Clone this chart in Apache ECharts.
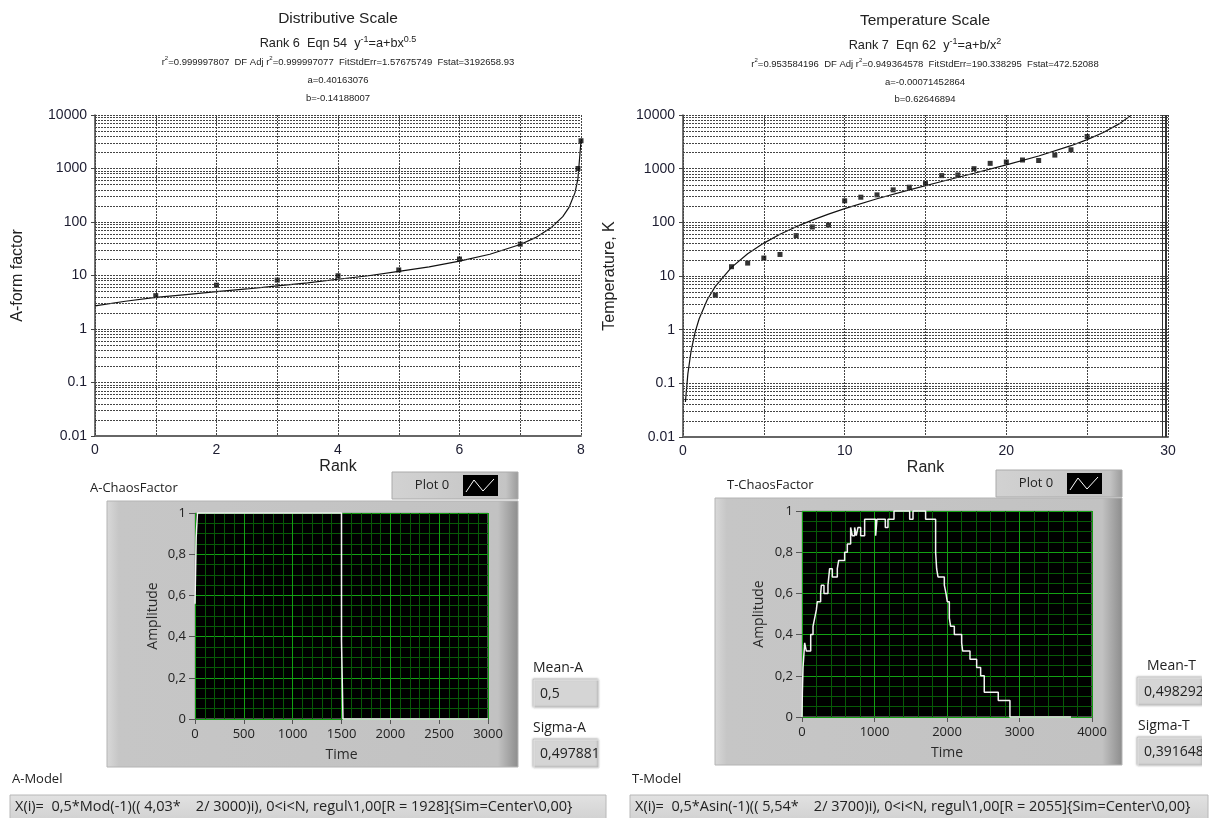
<!DOCTYPE html>
<html>
<head>
<meta charset="utf-8">
<script src="https://cdn.jsdelivr.net/npm/echarts@6/dist/echarts.min.js"></script>
<style>
  html, body { margin: 0; padding: 0; background: #fff; }
  #main { width: 1219px; height: 818px; }
</style>
</head>
<body>
<div id="main"></div>
<script>
// Distributive scale: rank vs A-form factor
var aRank = [1, 2, 3, 4, 5, 6, 7, 7.95, 8]
var aFactor = [4.2, 6.6, 8.2, 9.9, 12.7, 20.3, 38.5, 1000, 3300]
// fitted curve
var aFitRank = [0, 0.5, 1, 1.5, 2, 2.5, 3, 3.5, 4, 4.5, 5, 5.5, 6, 6.5, 7, 7.25, 7.5, 7.7, 7.8, 7.9, 7.95, 8]
var aFitValue = [2.7, 3.3, 3.9, 4.4, 5.0, 5.6, 6.4, 7.3, 8.5, 9.9, 11.9, 14.5, 18.5, 25, 38, 51, 77, 126, 185, 350, 650, 3300]

// Temperature scale: rank vs temperature
var tRank = [2, 3, 4, 5, 6, 7, 8, 9, 10, 11, 12, 13, 14, 15, 16, 17, 18, 19, 20, 21, 22, 23, 24, 25]
var tTemp = [4.4, 14.9, 17.4, 21.6, 25.2, 56.6, 82, 89, 252, 294, 325, 403, 451, 527, 742, 764, 1000, 1256, 1329, 1450, 1420, 1790, 2249, 3970]
var tFitRank = [0.15, 0.3, 0.5, 0.75, 1, 1.5, 2, 3, 4, 5, 6, 7, 8, 9, 10, 12, 14, 16, 18, 20, 22, 24, 25, 26, 27, 27.7]
var tFitTemp = [0.045, 0.15, 0.4, 0.9, 1.6, 3.6, 6.4, 14.5, 26, 41, 60, 83, 110, 142, 180, 275, 403, 577, 820, 1174, 1724, 2680, 3474, 4711, 6903, 9800]

// chaos factor waveforms (value holds from each time until the next one)
var aChaosTime = [0, 12, 25, 1500, 1515, 3000]
var aChaosAmp = [0.56, 0.88, 1, 0.38, 0, 0]
var tChaosTime = [0, 5, 14, 37, 60, 120, 152, 175, 198, 211, 257, 267, 303, 358, 381, 418, 487, 506, 588, 625,
  671, 694, 726, 749, 772, 809, 864, 1016, 1034, 1149, 1186, 1269, 1485, 1531, 1705, 1843, 1857, 1876, 1963, 1986,
  2004, 2032, 2050, 2101, 2202, 2216, 2317, 2409, 2464, 2514, 2707, 2868, 3710]
var tChaosAmp = [0, 0.12, 0.24, 0.36, 0.32, 0.40, 0.44, 0.48, 0.52, 0.56, 0.60, 0.64, 0.60, 0.64, 0.72, 0.68, 0.72, 0.76, 0.80, 0.84,
  0.92, 0.88, 0.92, 0.88, 0.92, 0.88, 0.96, 0.88, 0.96, 0.92, 0.96, 1.0, 0.96, 1.0, 0.96, 0.80, 0.72, 0.68, 0.64, 0.60,
  0.56, 0.48, 0.44, 0.40, 0.36, 0.32, 0.28, 0.24, 0.20, 0.12, 0.08, 0, 0]

// tick labels
var logTickLabels = ['0.01', '0.1', '1', '10', '100', '1000', '10000']
var ampTickLabels = ['0', '0,2', '0,4', '0,6', '0,8', '1']

function zip (xs, ys) {
  return xs.map(function (x, i) { return [x, ys[i]] })
}

// log grid: lines at 2..9 of each decade
var minorGrid = []
;[0.01, 0.1, 1, 10, 100, 1000].forEach(function (d) {
  for (var m = 2; m <= 9; m++) minorGrid.push({ yAxis: +(m * d).toPrecision(3) })
})
var edgeLines = [29.65, 29.8, 29.9].map(function (v) { return { xAxis: v } })

var arial = 'Liberation Sans, Arial, sans-serif'
var lvFont = 'Open Sans, Noto Sans, sans-serif'
var dotted = { color: '#444', width: 1, type: [2, 1] }

function logYAxis (gridIndex, name, gap) {
  return {
    gridIndex: gridIndex,
    type: 'log',
    logBase: 10,
    min: 0.01,
    max: 10000,
    name: name,
    nameLocation: 'middle',
    nameGap: gap,
    nameTextStyle: { fontSize: 16, fontFamily: arial, color: '#222' },
    axisLine: { show: true, lineStyle: { color: '#444', width: 1.5 } },
    axisTick: { show: true, length: 4, lineStyle: { color: '#444' } },
    axisLabel: {
      margin: 8, fontSize: 14, fontFamily: arial, color: '#1c1c30',
      formatter: function (v) { return logTickLabels[Math.round(Math.log10(v)) + 2] }
    },
    splitLine: { show: true, lineStyle: dotted }
  }
}

function rankXAxis (gridIndex, max, step, labelStep) {
  return {
    gridIndex: gridIndex,
    type: 'value',
    min: 0,
    max: max,
    interval: step,
    name: 'Rank',
    nameLocation: 'middle',
    nameGap: 23,
    nameTextStyle: { fontSize: 16, fontFamily: arial, color: '#222' },
    axisLine: { show: true, lineStyle: { color: '#666', width: 2 } },
    axisTick: { show: false },
    axisLabel: {
      margin: 7, fontSize: 14, fontFamily: arial, color: '#1c1c30',
      formatter: function (v) { return v % labelStep === 0 ? String(v) : '' }
    },
    splitLine: { show: true, lineStyle: dotted }
  }
}

function timeXAxis (gridIndex, max, step) {
  return {
    gridIndex: gridIndex,
    type: 'value',
    min: 0,
    max: max,
    interval: step,
    name: 'Time',
    nameLocation: 'middle',
    nameGap: 29,
    nameTextStyle: { fontSize: 14, fontFamily: lvFont, color: '#2a2a2a' },
    axisLine: { show: false },
    axisTick: { show: true, length: 5, lineStyle: { color: '#555' } },
    minorTick: { show: false, splitNumber: 5 },
    minorSplitLine: { show: true, lineStyle: { color: '#075a07', width: 1 } },
    splitLine: { show: true, lineStyle: { color: '#13a013', width: 1 } },
    axisLabel: {
      margin: 9, fontSize: 13, fontFamily: lvFont, color: '#222',
      formatter: function (v) { return String(v) }
    }
  }
}

function ampYAxis (gridIndex, gap) {
  return {
    gridIndex: gridIndex,
    type: 'value',
    min: 0,
    max: 1,
    interval: 0.2,
    name: 'Amplitude',
    nameLocation: 'middle',
    nameGap: gap,
    nameTextStyle: { fontSize: 14, fontFamily: lvFont, color: '#2a2a2a' },
    axisLine: { show: false },
    axisTick: { show: true, length: 6, lineStyle: { color: '#555' } },
    minorTick: { show: false, splitNumber: 4 },
    minorSplitLine: { show: true, lineStyle: { color: '#075a07', width: 1 } },
    splitLine: { show: true, lineStyle: { color: '#13a013', width: 1 } },
    axisLabel: {
      margin: 9, fontSize: 13, fontFamily: lvFont, color: '#222',
      formatter: function (v) { return ampTickLabels[Math.round(v * 5)] }
    }
  }
}

function txt (x, y, text, size, opts) {
  opts = opts || {}
  return {
    type: 'text',
    x: x,
    y: y,
    z: opts.z || 10,
    style: {
      text: text,
      fontSize: size,
      fontFamily: opts.font || arial,
      fill: opts.fill || '#222',
      align: opts.align || 'left',
      verticalAlign: 'middle',
      rich: opts.rich
    }
  }
}

function supRich (size) {
  return {
    n: { fontSize: size, fontFamily: arial, fill: '#222', lineHeight: size + 4, verticalAlign: 'middle' },
    s: { fontSize: Math.round(size * 0.68), fontFamily: arial, fill: '#222', lineHeight: size + 4, verticalAlign: 'top' }
  }
}

function panelBg (x, y, w, h) {
  return {
    type: 'rect', z: -10,
    shape: { x: x, y: y, width: w, height: h },
    style: {
      fill: new echarts.graphic.LinearGradient(0, 0, 1, 0, [
        { offset: 0, color: '#d9d9d9' }, { offset: 0.03, color: '#c6c6c6' },
        { offset: 0.95, color: '#c2c2c2' }, { offset: 1, color: '#8c8c8c' }
      ]),
      stroke: '#b4b4b4', lineWidth: 1
    }
  }
}

function legendBox (x, y) {
  return [
    {
      type: 'rect', z: -10,
      shape: { x: x, y: y, width: 126, height: 27 },
      style: {
        fill: new echarts.graphic.LinearGradient(0, 0, 1, 0, [
          { offset: 0, color: '#d2d2d2' }, { offset: 0.9, color: '#c4c4c4' }, { offset: 1, color: '#9a9a9a' }
        ]),
        stroke: '#aaa', lineWidth: 1
      }
    },
    txt(x + 40, y + 13, 'Plot 0', 13, { font: lvFont, align: 'center' }),
    { type: 'rect', z: 5, shape: { x: x + 71, y: y + 3, width: 35, height: 21 }, style: { fill: '#000' } },
    {
      type: 'polyline', z: 6,
      shape: { points: [[x + 74, y + 20], [x + 82, y + 8], [x + 91, y + 19], [x + 102, y + 7]] },
      style: { stroke: '#fff', lineWidth: 1, fill: null }
    }
  ]
}

function valueBox (x, y, label, value, labelX) {
  return [
    txt(labelX, y - 12, label, 14, { font: lvFont }),
    {
      type: 'rect', z: -5,
      shape: { x: x, y: y, width: 65, height: 28 },
      style: { fill: '#d5d5d5', stroke: '#e6e6e6', lineWidth: 1, shadowColor: 'rgba(0,0,0,0.25)', shadowBlur: 2, shadowOffsetX: -1, shadowOffsetY: -1 }
    },
    txt(x + 6, y + 14, value, 14, { font: lvFont })
  ]
}

function modelBox (x, y, w, label, text) {
  return [
    txt(x + 2, y - 16, label, 13, { font: lvFont }),
    {
      type: 'rect', z: -5,
      shape: { x: x, y: y, width: w, height: 24 },
      style: {
        fill: new echarts.graphic.LinearGradient(0, 0, 0, 1, [
          { offset: 0, color: '#e2e2e2' }, { offset: 1, color: '#d2d2d2' }
        ]),
        stroke: '#b8b8b8', lineWidth: 1
      }
    },
    txt(x + 5, y + 12, text, 14.5, { font: lvFont })
  ]
}

var graphics = [
  // left titles
  txt(338, 19, 'Distributive Scale', 15.5, { align: 'center' }),
  txt(338, 43, '{n|Rank 6  Eqn 54  y}{s|-1}{n|=a+bx}{s|0.5}', 12.7, { align: 'center', rich: supRich(12.7) }),
  txt(338, 62, '{n|r}{s|2}{n|=0.999997807  DF Adj r}{s|2}{n|=0.999997077  FitStdErr=1.57675749  Fstat=3192658.93}', 9.5, { align: 'center', rich: supRich(9.5) }),
  txt(338, 80, 'a=0.40163076', 9.5, { align: 'center' }),
  txt(338, 98, 'b=-0.14188007', 9.5, { align: 'center' }),
  // right titles
  txt(925, 21, 'Temperature Scale', 15.5, { align: 'center' }),
  txt(925, 45, '{n|Rank 7  Eqn 62  y}{s|-1}{n|=a+b/x}{s|2}', 12.7, { align: 'center', rich: supRich(12.7) }),
  txt(925, 64, '{n|r}{s|2}{n|=0.953584196  DF Adj r}{s|2}{n|=0.949364578  FitStdErr=190.338295  Fstat=472.52088}', 9.5, { align: 'center', rich: supRich(9.5) }),
  txt(925, 82, 'a=-0.00071452864', 9.5, { align: 'center' }),
  txt(925, 99, 'b=0.62646894', 9.5, { align: 'center' }),
  // chaos panels
  txt(90, 488, 'A-ChaosFactor', 13, { font: lvFont }),
  panelBg(107, 501, 411, 266),
  txt(727, 485, 'T-ChaosFactor', 13, { font: lvFont }),
  panelBg(715, 498, 407, 267)
]
  .concat(legendBox(392, 472))
  .concat(legendBox(996, 470))
  .concat(valueBox(534, 680, 'Mean-A', '0,5', 533))
  .concat(valueBox(534, 740, 'Sigma-A', '0,497881', 533))
  .concat(valueBox(1138, 678, 'Mean-T', '0,498292', 1147))
  .concat(valueBox(1138, 738, 'Sigma-T', '0,391648', 1138))
  .concat(modelBox(10, 795, 596, 'A-Model', 'X(i)=  0,5*Mod(-1)(( 4,03*    2/ 3000)i), 0<i<N, regul\\1,00[R = 1928]{Sim=Center\\0,00}'))
  .concat(modelBox(630, 795, 578, 'T-Model', 'X(i)=  0,5*Asin(-1)(( 5,54*    2/ 3700)i), 0<i<N, regul\\1,00[R = 2055]{Sim=Center\\0,00}'))
  .concat([{ type: 'rect', z: 50, shape: { x: 1202, y: 670, width: 17, height: 100 }, style: { fill: '#fff' } }])

var option = {
  animation: false,
  backgroundColor: '#fff',
  grid: [
    { left: 95, top: 115, width: 486, height: 321, containLabel: false, outerBoundsMode: 'none' },
    { left: 683, top: 115, width: 485, height: 322, containLabel: false, outerBoundsMode: 'none' },
    { left: 195, top: 513, width: 293, height: 206, containLabel: false, outerBoundsMode: 'none', show: true, backgroundColor: '#000', borderColor: '#9a9a9a', borderWidth: 1 },
    { left: 802, top: 511, width: 290, height: 206, containLabel: false, outerBoundsMode: 'none', show: true, backgroundColor: '#000', borderColor: '#9a9a9a', borderWidth: 1 }
  ],
  xAxis: [
    rankXAxis(0, 8, 1, 2),
    rankXAxis(1, 30, 5, 10),
    timeXAxis(2, 3000, 500),
    timeXAxis(3, 4000, 1000)
  ],
  yAxis: [
    logYAxis(0, 'A-form factor', 69),
    logYAxis(1, 'Temperature, K', 65),
    ampYAxis(2, 35),
    ampYAxis(3, 36)
  ],
  graphic: { elements: graphics },
  series: [
    {
      type: 'line', xAxisIndex: 0, yAxisIndex: 0,
      data: zip(aFitRank, aFitValue),
      symbol: 'none', lineStyle: { color: '#111', width: 1.2 },
      markLine: { silent: true, symbol: ['none', 'none'], label: { show: false }, lineStyle: dotted, data: minorGrid }
    },
    {
      type: 'scatter', xAxisIndex: 0, yAxisIndex: 0,
      data: zip(aRank, aFactor),
      symbol: 'rect', symbolSize: 5, itemStyle: { color: '#000' }
    },
    {
      type: 'line', xAxisIndex: 1, yAxisIndex: 1,
      data: zip(tFitRank, tFitTemp),
      symbol: 'none', lineStyle: { color: '#111', width: 1.2 },
      markLine: {
        silent: true, symbol: ['none', 'none'], label: { show: false }, lineStyle: dotted,
        data: minorGrid.concat(edgeLines.map(function (d) { return Object.assign({ lineStyle: { color: '#333', type: 'solid', width: 1 } }, d) }))
      }
    },
    {
      type: 'scatter', xAxisIndex: 1, yAxisIndex: 1,
      data: zip(tRank, tTemp),
      symbol: 'rect', symbolSize: 5, itemStyle: { color: '#000' }
    },
    {
      type: 'line', xAxisIndex: 2, yAxisIndex: 2,
      data: zip(aChaosTime, aChaosAmp),
      step: 'end', symbol: 'none', clip: false, z: 5, lineStyle: { color: '#f4f4f4', width: 1.5 }
    },
    {
      type: 'line', xAxisIndex: 3, yAxisIndex: 3,
      data: zip(tChaosTime, tChaosAmp),
      step: 'end', symbol: 'none', clip: false, z: 5, lineStyle: { color: '#f4f4f4', width: 1.5 }
    }
  ]
}

var chart = echarts.init(document.getElementById('main'))
chart.setOption(option)
</script>
</body>
</html>
